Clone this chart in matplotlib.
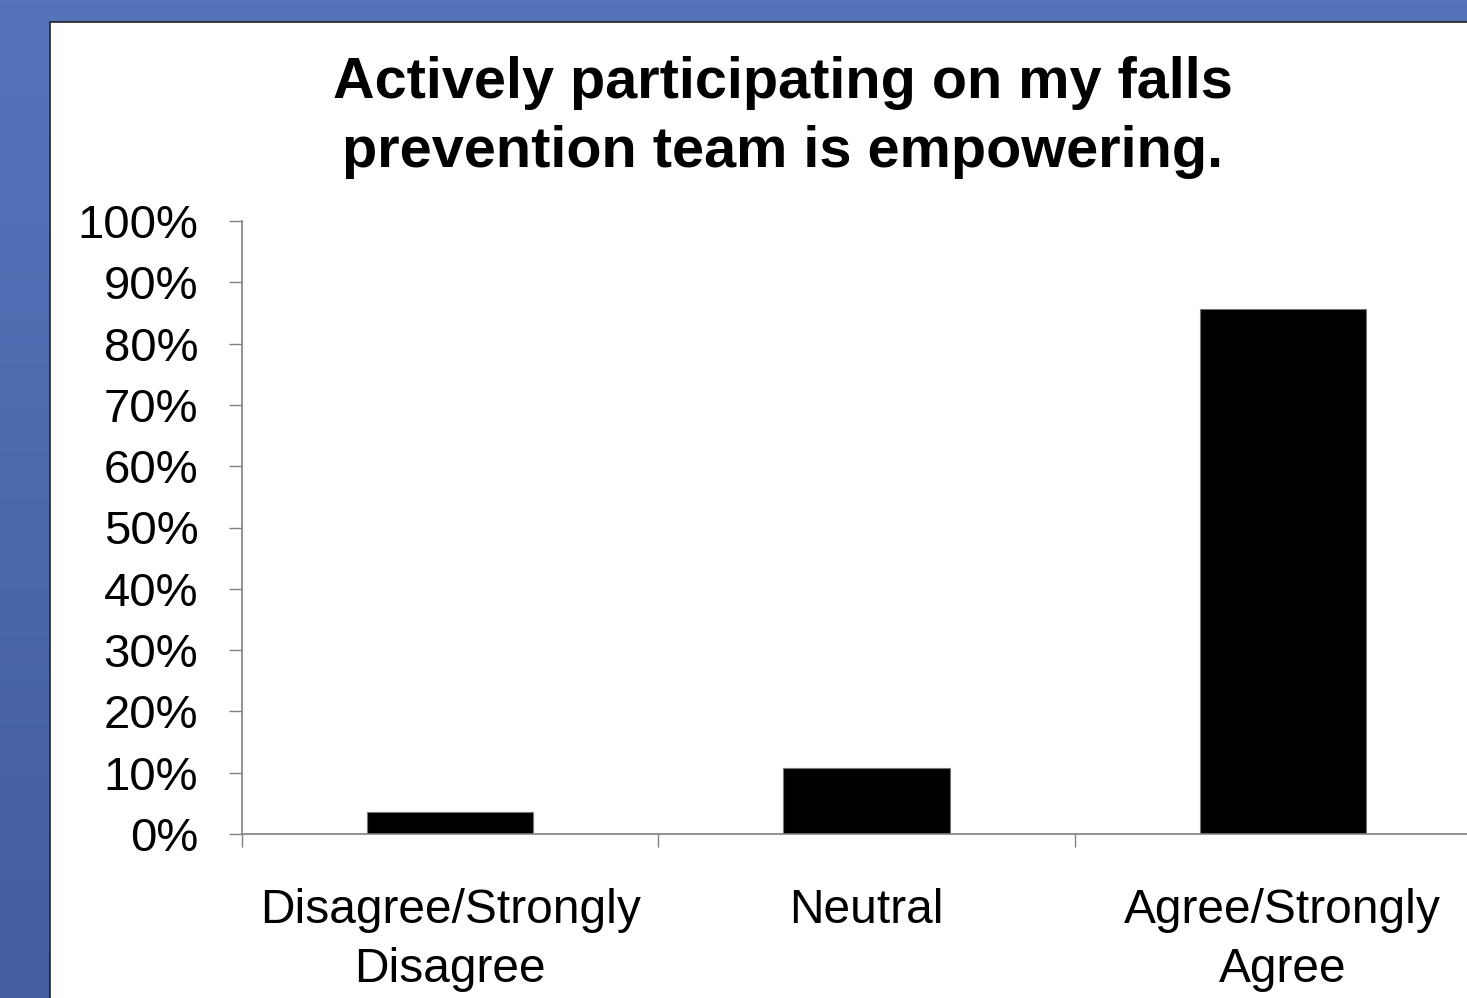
import numpy as np
import matplotlib.pyplot as plt
from matplotlib.patches import Rectangle

categories = ["Disagree/Strongly\nDisagree", "Neutral", "Agree/Strongly\nAgree"]
percent = [3.6, 10.7, 85.7]
yticks = [0, 10, 20, 30, 40, 50, 60, 70, 80, 90, 100]
title = "Actively participating on my falls\nprevention team is empowering."

plt.rcParams['font.family'] = ['Liberation Sans', 'DejaVu Sans']

W, H = 1467, 998
fig = plt.figure(figsize=(W / 100, H / 100), dpi=100)

# blue slide background with a soft vertical gradient
bg = fig.add_axes([0, 0, 1, 1], zorder=-2)
grad = np.linspace(0, 1, 256).reshape(-1, 1)
top = np.array([0x55, 0x74, 0xBA]) / 255
bot = np.array([0x43, 0x5E, 0xA0]) / 255
img = top * (1 - grad[..., None]) + bot * grad[..., None]
bg.imshow(img, aspect='auto', extent=[0, 1, 0, 1])
bg.set_axis_off()

# white chart panel
panel = Rectangle((50 / W, -0.1), 1.2, (H - 22) / H + 0.1, transform=fig.transFigure,
                  facecolor='white', edgecolor='#222222', linewidth=1.2, zorder=-1)
fig.patches.append(panel)

ax = fig.add_axes([242 / W, 164 / H, (1491 - 242) / W, (834 - 221) / H])
ax.patch.set_alpha(0)
x = np.arange(len(categories))
ax.bar(x, percent, width=0.4, color='black', edgecolor='#777777', linewidth=0.8)

ax.set_xlim(-0.5, len(categories) - 0.5)
ax.set_ylim(0, 100)
ax.set_yticks(yticks)
ax.set_yticklabels([f"{v}%" for v in yticks])
ax.set_xticks(np.arange(-0.5, len(categories), 1.0))
ax.set_xticklabels([])
ax.set_xticks(x, minor=True)
ax.set_xticklabels(categories, minor=True)

for s in ['top', 'right']:
    ax.spines[s].set_visible(False)
for s in ['left', 'bottom']:
    ax.spines[s].set_color('#808080')
    ax.spines[s].set_linewidth(1.2)

ax.tick_params(axis='y', which='major', direction='out', length=9.5, width=1.0,
               color='#808080', labelsize=34, pad=22)
ax.tick_params(axis='x', which='major', direction='out', length=9.5, width=1.0,
               color='#808080')
ax.tick_params(axis='x', which='minor', length=0, labelsize=34.5, pad=39)
for lab in ax.get_xticklabels(minor=True):
    lab.set_linespacing(1.4)

fig.text(783 / W, 1 - 117.5 / H, title, ha='center', va='center', fontsize=41.5,
         fontweight='bold', linespacing=1.38)

fig.savefig('out.png', dpi=100)
